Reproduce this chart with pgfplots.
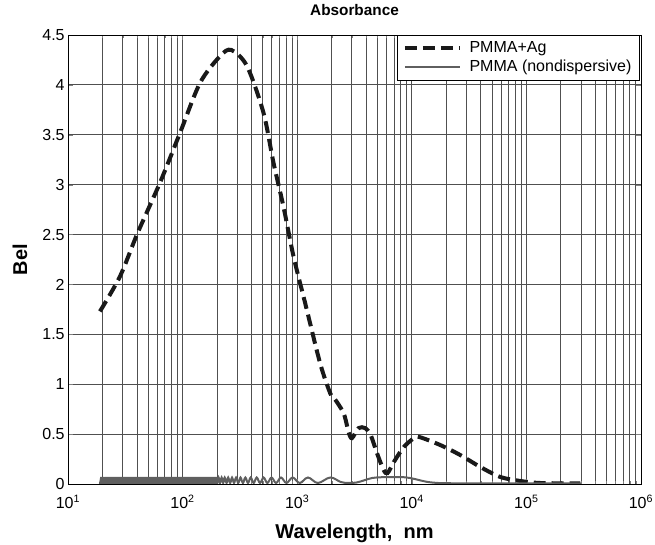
\documentclass[border=0pt]{standalone}
\usepackage{pgfplots}
\pgfplotsset{compat=1.18}
\usepackage{fontspec}
\setmainfont{Liberation Sans}
\definecolor{gridc}{RGB}{80,80,80}
\definecolor{pmma}{RGB}{95,95,95}
\begin{document}
\begin{tikzpicture}
\begin{axis}[
  name=ax,
  scale only axis,
  width=429.75pt, height=336.75pt,
  xmode=log,
  xmin=10, xmax=1e6,
  ymin=0, ymax=4.5,
  xtick={10,100,1000,10000,100000,1000000},
  xticklabels={10\textsuperscript{1},10\textsuperscript{2},10\textsuperscript{3},10\textsuperscript{4},10\textsuperscript{5},10\textsuperscript{6}},
  ytick={0,0.5,1,1.5,2,2.5,3,3.5,4,4.5},
  yticklabels={0,0.5,1,1.5,2,2.5,3,3.5,4,4.5},
  tick label style={font=\fontsize{12}{14}\selectfont},
  xticklabel style={yshift=-5pt},
  yticklabel style={xshift=1pt},
  tick align=inside,
  major tick length=4pt, minor tick length=2pt,
  xmajorgrids, xminorgrids, ymajorgrids,
  grid style={draw=gridc, line width=0.6pt},
  minor grid style={draw=gridc, line width=0.6pt},
  axis line style={line width=0.7pt},
  title={Absorbance},
  title style={at={(0.5,1)}, anchor=south, yshift=5pt, font=\bfseries\fontsize{11.5}{13}\selectfont},
  xlabel={Wavelength,\ \ nm},
  xlabel style={at={(axis description cs:0.5,0)}, anchor=base, yshift=-41pt, font=\bfseries\fontsize{15}{17}\selectfont},
  ylabel={Bel},
  ylabel style={at={(axis description cs:-0.084,0.5)}, anchor=center, font=\bfseries\fontsize{15}{17}\selectfont},
  legend style={at={(1,1)}, anchor=north east, xshift=-1pt, draw=black, fill=white,
    font=\fontsize{12}{13.5}\selectfont, row sep=0pt, inner xsep=4pt, inner ysep=3pt,
    /tikz/every odd column/.append style={column sep=4pt}},
  legend cell align=left,
  legend image code/.code={\draw[#1] (0pt,0pt) -- (41pt,0pt);},
]
\addplot[color=black!90, line width=3pt, dash pattern=on 9pt off 4.5pt, smooth, tension=0.5] coordinates {
(19,1.73) (28.4,2.08) (40.3,2.51) (63.5,3.02) (95,3.52) (142,4.02) (213,4.29) (266,4.35)
(364,4.19) (508,3.72) (621,3.22) (759,2.78) (929,2.28) (1175,1.81) (1585,1.21) (1940,0.91)
(2075,0.87) (2540,0.71) (2808,0.52) (3004,0.46) (3430,0.56) (3925,0.56) (4380,0.49) (4966,0.31)
(5680,0.14) (6150,0.11) (6970,0.22) (8510,0.37) (10460,0.46) (11700,0.47) (17750,0.39)
(26500,0.29) (39700,0.17) (59300,0.07) (88700,0.03) (132000,0.01) (295000,0.005)
};
\addlegendentry{PMMA+Ag}
\addplot[color=pmma, line width=1.5pt, line join=bevel] coordinates {
(19,0) (19.5,.07) (20,0) (20.5,.07) (21,0) (21.5,.07) (22,0) (22.5,.07)
(23,0) (23.5,.07) (24,0) (24.5,.07) (25,0) (25.5,.07) (26,0) (26.5,.07)
(27,0) (27.5,.07) (28,0) (28.5,.07) (29,0) (29.5,.07) (30,0) (30.5,.07)
(31,0) (31.5,.07) (32,0) (32.5,.07) (33,0) (33.5,.07) (34,0) (34.5,.07)
(35,0) (35.5,.07) (36,0) (36.5,.07) (37,0) (37.5,.07) (38,0) (38.5,.07)
(39,0) (39.5,.07) (40,0)
(41,.07) (42,0) (43,.07) (44,0) (45,.07) (46,0) (47,.07) (48,0) (49,.07) (50,0)
(51,.07) (52,0) (53,.07) (54,0) (55,.07) (56,0) (57,.07) (58,0) (59,.07) (60,0)
(61,.07) (62,0) (63,.07) (64,0) (65,.07) (66,0) (67,.07) (68,0) (69,.07) (70,0)
(71,.07) (72,0) (73,.07) (74,0) (75,.07) (76,0) (77,.07) (78,0) (79,.07) (80,0)
(81,.07) (82,0) (83,.07) (84,0) (85,.07) (86,0) (87,.07) (88,0) (89,.07) (90,0)
(91,.07) (92,0) (93,.07) (94,0) (95,.07) (96,0) (97,.07) (98,0) (99,.07) (100,0)
(102,.07) (104,0) (106,.07) (108,0) (110,.07) (112,0) (114,.07) (116,0) (118,.07) (120,0)
(122,.07) (124,0) (126,.07) (128,0) (130,.07) (132,0) (134,.07) (136,0) (138,.07) (140,0)
(142,.07) (144,0) (146,.07) (148,0) (150,.07) (152,0) (154,.07) (156,0) (158,.07) (160,0)
(162,.07) (164,0) (166,.07) (168,0) (170,.07) (172,0) (174,.07) (176,0) (178,.07) (180,0)
(182,.07) (184,0) (186,.07) (188,0) (190,.07) (192,0) (194,.07) (196,0) (198,.07) (200,0)
};
\addlegendentry{PMMA (nondispersive)}
\addplot[color=pmma, line width=1.5pt, smooth, tension=0.6, forget plot] coordinates {
(200,0) (206,.065) (212,.01) (219,.065) (226,.01) (233,.065) (242,.01) (250,.065) (260,.01)
(270,.065) (281,.01) (293,.065) (306,.01) (320,.065) (336,.01) (353,.065) (372,.01) (393,.065)
(417,.01) (443,.065) (474,.01) (509,.065) (549,.01) (597,.065) (654,.01) (722,.065) (806,.01)
(913,.065) (1053,.01) (1242,.065) (1515,.01) (1942,.065) (2400,.02) (2800,.01) (3300,.015)
(3800,.035) (4500,.06) (5500,.068) (7000,.07) (8500,.068) (9700,.06) (11500,.04) (13500,.022)
(16000,.012) (20000,.008) (40000,.006) (300000,.006)
};
\end{axis}
\pgfresetboundingbox
\path ([xshift=-51pt,yshift=-45.75pt]ax.south west) rectangle ([xshift=10.5pt,yshift=26.25pt]ax.north east);
\end{tikzpicture}
\end{document}
